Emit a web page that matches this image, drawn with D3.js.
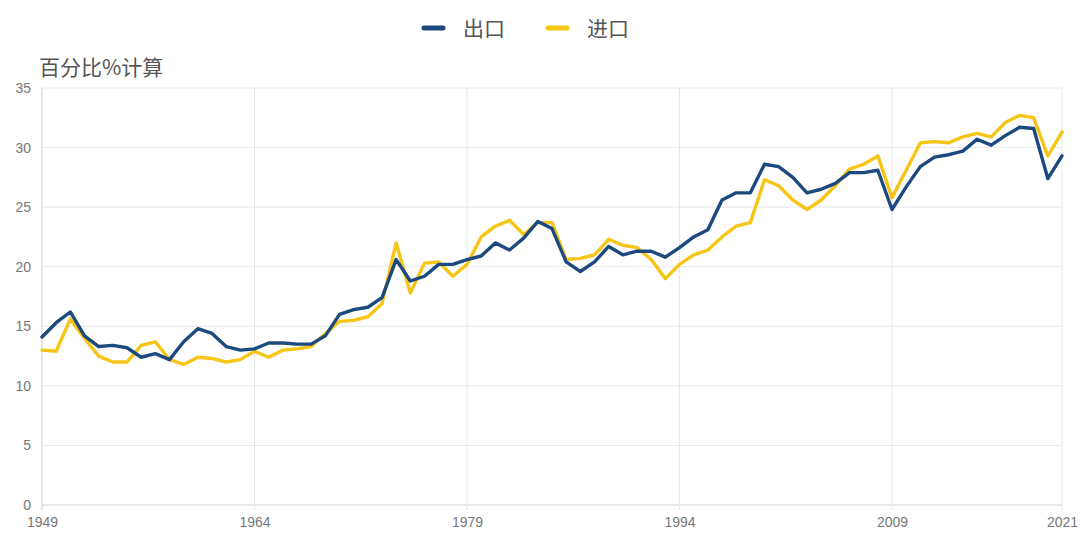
<!DOCTYPE html>
<html>
<head>
<meta charset="utf-8">
<script src="https://cdn.jsdelivr.net/npm/d3@7/dist/d3.min.js"></script>
<style>
  html, body { margin: 0; padding: 0; background: #fff; }
  svg { display: block; font-family: "Noto Sans CJK SC", "Noto Sans", Arial, sans-serif; }
</style>
</head>
<body>
<svg id="chart" width="1080" height="533"></svg>
<script>
const years = d3.range(1949, 2022);
const exportShare = [
  14.1, 15.3, 16.2, 14.2, 13.3, 13.4, 13.2, 12.4, 12.7, 12.2,
  13.7, 14.8, 14.4, 13.3, 13.0, 13.1, 13.6, 13.6, 13.5, 13.5,
  14.2, 16.0, 16.4, 16.6, 17.4, 20.6, 18.8, 19.2, 20.2, 20.2,
  20.6, 20.9, 22.0, 21.4, 22.4, 23.8, 23.2, 20.4, 19.6, 20.4,
  21.7, 21.0, 21.3, 21.3, 20.8, 21.6, 22.5, 23.1, 25.6, 26.2,
  26.2, 28.6, 28.4, 27.5, 26.2, 26.5, 27.0, 27.9, 27.9, 28.1,
  24.8, 26.7, 28.4, 29.2, 29.4, 29.7, 30.7, 30.2, 31.0, 31.7,
  31.6, 27.4, 29.3
];
const importShare = [
  13.0, 12.9, 15.6, 14.0, 12.5, 12.0, 12.0, 13.4, 13.7, 12.2,
  11.8, 12.4, 12.3, 12.0, 12.2, 12.9, 12.4, 13.0, 13.1, 13.3,
  14.4, 15.4, 15.5, 15.8, 16.9, 22.0, 17.8, 20.3, 20.4, 19.2,
  20.2, 22.5, 23.4, 23.9, 22.7, 23.7, 23.7, 20.6, 20.7, 21.0,
  22.3, 21.8, 21.6, 20.6, 19.0, 20.2, 21.0, 21.4, 22.5, 23.4,
  23.7, 27.3, 26.8, 25.6, 24.8, 25.6, 26.8, 28.2, 28.6, 29.3,
  25.8, 28.1, 30.4, 30.5, 30.4, 30.9, 31.2, 30.9, 32.1, 32.7,
  32.5, 29.3, 31.3
];
const xTickYears = [1949, 1964, 1979, 1994, 2009, 2021];
const yTicks = [0, 5, 10, 15, 20, 25, 30, 35];
const seriesNames = ["出口", "进口"];
const seriesColors = ["#1c4a7e", "#f6c516"];
const yTitle = "百分比%计算";

const svg = d3.select("#chart");
const margin = { left: 42, right: 18 };
const W = 1080;

const x = d3.scaleLinear().domain([1949, 2021]).range([margin.left, W - margin.right]);
const y = d3.scaleLinear().domain([0, 35]).range([505, 88]);

// grid
const grid = svg.append("g");
grid.selectAll("line.h").data(yTicks).enter().append("line")
  .attr("x1", x(1949)).attr("x2", x(2021))
  .attr("y1", d => y(d)).attr("y2", d => y(d))
  .attr("stroke", d => d === 0 ? "#d0d0d0" : "#e8e8e8").attr("stroke-width", 1);
grid.selectAll("line.v").data(xTickYears).enter().append("line")
  .attr("x1", d => x(d)).attr("x2", d => x(d))
  .attr("y1", y(35)).attr("y2", y(0) + 5)
  .attr("stroke", d => d === 1949 ? "#d0d0d0" : "#e8e8e8").attr("stroke-width", 1);

// y axis labels
const yAxis = d3.axisLeft(y).tickValues(yTicks).tickSize(0).tickPadding(11);
const gy = svg.append("g").attr("transform", `translate(${x(1949)},0)`).call(yAxis);
gy.select(".domain").remove();
gy.selectAll("text").attr("fill", "#777").attr("font-size", 14)
  .attr("font-family", "'Liberation Sans', Arial, sans-serif");

// x axis labels
const xAxis = d3.axisBottom(x).tickValues(xTickYears).tickFormat(d3.format("d")).tickSize(0).tickPadding(12);
const gx = svg.append("g").attr("transform", `translate(0,${y(0)})`).call(xAxis);
gx.select(".domain").remove();
gx.selectAll("text").attr("fill", "#777").attr("font-size", 14)
  .attr("font-family", "'Liberation Sans', Arial, sans-serif");

// y title
svg.append("text").attr("x", 39).attr("y", 75).text(yTitle)
  .attr("fill", "#555").attr("font-size", 21);

// lines
const line = d3.line().x((d, i) => x(years[i])).y(d => y(d)).curve(d3.curveLinear);
[[importShare, 1], [exportShare, 0]].forEach(([data, idx]) => {
  svg.append("path").datum(data).attr("d", line)
    .attr("fill", "none").attr("stroke", seriesColors[idx])
    .attr("stroke-width", 3.4).attr("stroke-linejoin", "round").attr("stroke-linecap", "round");
});

// legend
const legend = svg.append("g");
const legendX = [424, 548];
seriesNames.forEach((name, i) => {
  const lx = legendX[i];
  legend.append("line").attr("x1", lx).attr("x2", lx + 19).attr("y1", 28).attr("y2", 28)
    .attr("stroke", seriesColors[i]).attr("stroke-width", 5).attr("stroke-linecap", "round");
  legend.append("text").attr("x", lx + 39).attr("y", 36).text(name)
    .attr("fill", "#555").attr("font-size", 21);
});
</script>
</body>
</html>
